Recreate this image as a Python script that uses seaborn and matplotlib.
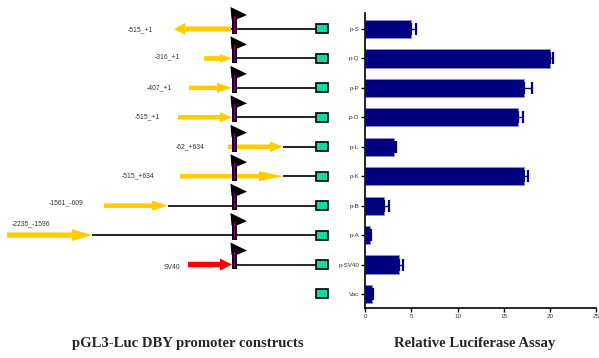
import matplotlib
matplotlib.use("Agg")
import matplotlib.pyplot as plt
import seaborn as sns
import pandas as pd
from matplotlib.patches import FancyArrow, Rectangle, Polygon

# ---- luciferase activity per construct ----
constructs = ["p-S", "p-Q", "p-P", "p-O", "p-L", "p-K", "p-B", "p-A", "p-SV40", "Vac"]
activity = [5.0, 20.0, 17.2, 16.5, 3.15, 17.25, 2.05, 0.47, 3.6, 0.73]
activity_err = [0.45, 0.35, 0.85, 0.6, 0.2, 0.4, 0.55, 0.2, 0.45, 0.15]
x_ticks = [0, 5, 10, 15, 20, 25]

# ---- promoter fragment in each construct ----
region_labels = ["-515_+1", "-316_+1", "-407_+1", "-515_+1", "-62_+634",
                 "-515_+634", "-1561_-609", "-2235_-1596", "SV40", None]
region_colors = ["#FFCC00"] * 8 + ["#FF0000", None]

# schematic layout (drawing units = pixels of the left panel)
arrow_tail = [231, 204, 189, 178, 228, 180, 104, 7, 188, None]
arrow_tip = [174, 232, 232, 232, 283, 283, 168, 92, 232, None]
head_len = [11, 12, 15, 12, 13, 24, 16, 20, 12, None]
head_wid = [12, 8.5, 10, 10, 10.5, 10, 10, 11.7, 12, None]
shaft_wid = [5, 4.7, 4.6, 4.6, 4.6, 4.6, 4.6, 5.3, 5.5, None]
label_x = [140.3, 167.5, 159.5, 147.8, 190.2, 138.5, 66, 31.2, 171.8, None]
label_dy = [0.6, -1.6, 0, -0.6, 0.3, -0.2, -2.8, -11.5, 3.3, None]

W, H, DPI = 599, 358, 100
fig = plt.figure(figsize=(W / DPI, H / DPI), dpi=DPI)
sns.set_style("ticks")
plt.rcParams["font.family"] = ["Liberation Sans", "DejaVu Sans"]

# ---- bar chart ----
ax = fig.add_axes([365.3 / W, 1 - 307.7 / H, (596 - 365.3) / W, (307.7 - 13.3) / H])
df = pd.DataFrame({"construct": constructs, "activity": activity, "err": activity_err})
sns.barplot(data=df, x="activity", y="construct", orient="h", color="#000080",
            saturation=1, width=0.62, edgecolor="#8c8cc8", linewidth=0.7,
            errorbar=None, ax=ax)
ypos = list(range(len(constructs)))
ax.errorbar(df["activity"], ypos, xerr=[[0] * len(ypos), df["err"]], fmt="none",
            ecolor="#000080", elinewidth=1.0, capsize=4, capthick=1.6, zorder=3)
ax.set_xlim(0, 25)
ax.set_ylim(9.466, -0.533)
ax.set_xticks(x_ticks)
ax.set_xlabel("")
ax.set_ylabel("")
for s in ["top", "right"]:
    ax.spines[s].set_visible(False)
for s in ["left", "bottom"]:
    ax.spines[s].set_linewidth(1.2)
    ax.spines[s].set_color("black")
ax.tick_params(axis="both", length=3, width=1, color="black",
               labelsize=4.5, labelcolor="#333333", pad=1.5)
fig.text(474.7 / W, 1 - 343 / H, "Relative Luciferase Assay", ha="center", va="center",
         fontsize=10.6, fontweight="bold", family="Liberation Serif")

# ---- construct schematic ----
axl = fig.add_axes([0, 0, 340 / W, 1])
axl.set_xlim(0, 340)
axl.set_ylim(H, 0)
axl.axis("off")
fig.canvas.draw()

box_x0, box_w, box_h = 315.7, 12, 9
for i, name in enumerate(constructs):
    # row centre taken from the bar chart's category scale
    c = H - ax.transData.transform((0, i))[1]
    if region_labels[i] is not None:
        tail, tip = arrow_tail[i], arrow_tip[i]
        line_start = max(tail, tip)
        axl.plot([line_start, box_x0], [c, c], color="black", lw=1.2,
                 solid_capstyle="butt", zorder=1)
        axl.add_patch(FancyArrow(tail, c, tip - tail, 0, width=shaft_wid[i],
                                 head_width=head_wid[i], head_length=head_len[i],
                                 length_includes_head=True, color=region_colors[i],
                                 lw=0, zorder=2))
        # promoter block and transcription-start flag
        axl.add_patch(Rectangle((231.7, c - 14), 5.5, 18.8, facecolor="black",
                                edgecolor="none", zorder=3))
        axl.add_patch(Rectangle((233.7, c - 13), 1.7, 16.8, facecolor="#800080",
                                edgecolor="none", zorder=4))
        axl.add_patch(Polygon([(230.5, c - 22), (247, c - 14), (236.5, c - 9.5),
                               (231.5, c - 9.5)], closed=True, facecolor="black",
                              edgecolor="none", zorder=3))
        axl.text(label_x[i], c + label_dy[i], region_labels[i], ha="center",
                 va="center", fontsize=4.9, color="#333333")
    # luciferase reporter box
    axl.add_patch(Rectangle((box_x0, c - box_h / 2), box_w, box_h, facecolor="#14D9A0",
                            edgecolor="black", lw=1.2, zorder=3))

fig.text(187.5 / W, 1 - 343 / H, "pGL3-Luc DBY promoter constructs", ha="center",
         va="center", fontsize=10.6, fontweight="bold", family="Liberation Serif")

fig.savefig("out.png", dpi=DPI)
